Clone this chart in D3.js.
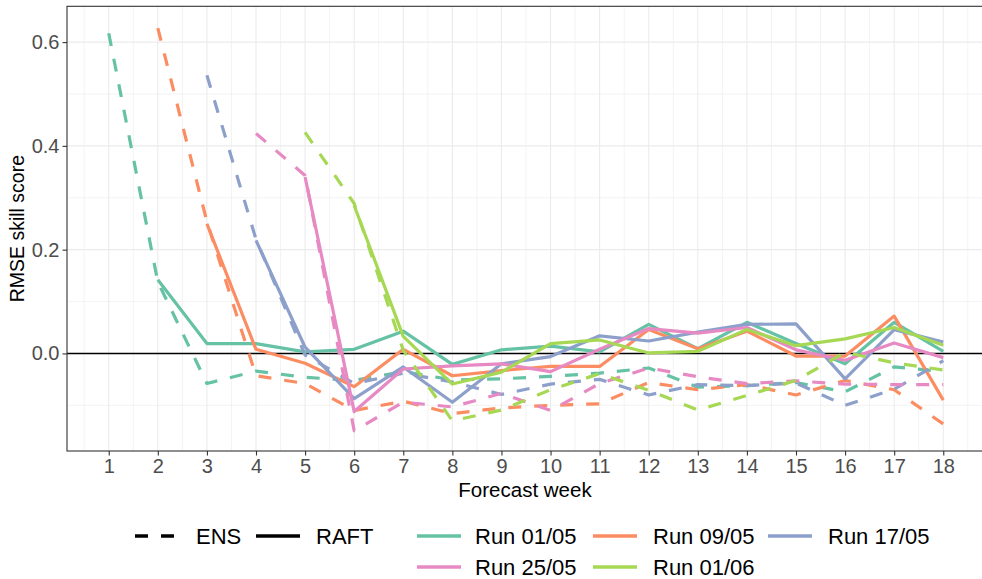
<!DOCTYPE html>
<html><head><meta charset="utf-8">
<script src="https://cdn.jsdelivr.net/npm/d3@7/dist/d3.min.js"></script>
<style>
body{margin:0;background:#fff;}
svg{display:block;font-family:"Liberation Sans",Arial,Helvetica,sans-serif;}
</style>
</head><body>
<svg id="chart" width="982" height="579"></svg>
<script>
// ---------------- data ----------------
const xTicks = d3.range(1, 19);
const yTicks = [0.0, 0.2, 0.4, 0.6];
const runNames = ["Run 01/05", "Run 09/05", "Run 17/05", "Run 25/05", "Run 01/06"];
const runColors = ["#66C2A5", "#FC8D62", "#8DA0CB", "#E78AC3", "#A6D854"];
const typeNames = ["ENS", "RAFT"];
const ensStartWeek = [1, 2, 3, 4, 5];
const raftStartWeek = [2, 3, 4, 5, 6];

const ens0105  = [0.617, 0.138, -0.058, -0.034, -0.046, -0.052, -0.035, -0.051, -0.049, -0.044, -0.038, -0.028, -0.065, -0.062, -0.056, -0.074, -0.026, -0.035];
const raft0105 = [0.142, 0.019, 0.019, 0.003, 0.008, 0.043, -0.021, 0.007, 0.014, 0.003, 0.056, 0.009, 0.060, 0.019, -0.020, 0.060, 0.004];
const ens0905  = [0.627, 0.254, -0.043, -0.058, -0.110, -0.092, -0.116, -0.105, -0.100, -0.097, -0.056, -0.070, -0.060, -0.080, -0.052, -0.070, -0.136];
const raft0905 = [0.250, 0.008, -0.019, -0.064, 0.008, -0.043, -0.033, -0.025, -0.025, 0.046, 0.009, 0.043, -0.005, -0.005, 0.072, -0.090];
const ens1705  = [0.536, 0.220, -0.003, -0.058, -0.038, -0.055, -0.079, -0.059, -0.050, -0.080, -0.060, -0.062, -0.057, -0.100, -0.069, -0.014];
const raft1705 = [0.218, 0.012, -0.087, -0.026, -0.094, -0.020, -0.006, 0.034, 0.024, 0.041, 0.056, 0.057, -0.049, 0.046, 0.022];
const ens2505  = [0.424, 0.343, -0.149, -0.094, -0.103, -0.077, -0.110, -0.058, -0.028, -0.045, -0.058, -0.053, -0.059, -0.060, -0.060];
const raft2505 = [0.340, -0.112, -0.030, -0.024, -0.020, -0.035, 0.008, 0.048, 0.039, 0.050, 0.007, -0.013, 0.020, -0.008];
const ens0106  = [0.426, 0.289, 0.006, -0.130, -0.109, -0.070, -0.039, -0.071, -0.109, -0.081, -0.052, 0.002, -0.018, -0.032];
const raft0106 = [0.285, 0.033, -0.059, -0.036, 0.019, 0.026, 0.001, 0.004, 0.046, 0.015, 0.028, 0.050, 0.016];

const ensValues = [ens0105, ens0905, ens1705, ens2505, ens0106];
const raftValues = [raft0105, raft0905, raft1705, raft2505, raft0106];

// ---------------- layout ----------------
const W = 982, H = 579;
const panel = {left: 67, top: 6.3, right: 985, bottom: 451};
const svg = d3.select("#chart");

const x = d3.scaleLinear().domain([0.15, 18.85]).range([panel.left, panel.right]);
const y = d3.scaleLinear().domain([-0.188, 0.669]).range([panel.bottom, panel.top]);

const gridColor = "#EBEBEB";
const tickColor = "#4D4D4D";

// clip path for panel
svg.append("defs").append("clipPath").attr("id", "clip")
  .append("rect").attr("x", panel.left).attr("y", panel.top)
  .attr("width", panel.right - panel.left).attr("height", panel.bottom - panel.top);

const g = svg.append("g").attr("clip-path", "url(#clip)");

// minor grid
const xMinor = d3.range(0.5, 19.0, 1);
const yMinor = [-0.1, 0.1, 0.3, 0.5];
g.selectAll(".xminor").data(xMinor).enter().append("line")
  .attr("x1", d => x(d)).attr("x2", d => x(d)).attr("y1", panel.top).attr("y2", panel.bottom)
  .attr("stroke", gridColor).attr("stroke-width", 0.6);
g.selectAll(".yminor").data(yMinor).enter().append("line")
  .attr("y1", d => y(d)).attr("y2", d => y(d)).attr("x1", panel.left).attr("x2", panel.right)
  .attr("stroke", gridColor).attr("stroke-width", 0.6);
// major grid
g.selectAll(".xmajor").data(xTicks).enter().append("line")
  .attr("x1", d => x(d)).attr("x2", d => x(d)).attr("y1", panel.top).attr("y2", panel.bottom)
  .attr("stroke", gridColor).attr("stroke-width", 1.1);
g.selectAll(".ymajor").data(yTicks).enter().append("line")
  .attr("y1", d => y(d)).attr("y2", d => y(d)).attr("x1", panel.left).attr("x2", panel.right)
  .attr("stroke", gridColor).attr("stroke-width", 1.1);

// zero line
g.append("line").attr("x1", panel.left).attr("x2", panel.right)
  .attr("y1", y(0)).attr("y2", y(0)).attr("stroke", "#000").attr("stroke-width", 1.6);

// series
const line = d3.line().x(d => x(d.w)).y(d => y(d.v)).curve(d3.curveLinear);
const series = [];
runNames.forEach((name, i) => {
  series.push({run: i, type: "ENS", pts: ensValues[i].map((v, k) => ({w: ensStartWeek[i] + k, v}))});
  series.push({run: i, type: "RAFT", pts: raftValues[i].map((v, k) => ({w: raftStartWeek[i] + k, v}))});
});
const dash = "13,13";
g.selectAll(".series").data(series).enter().append("path")
  .attr("d", d => line(d.pts))
  .attr("fill", "none")
  .attr("stroke", d => runColors[d.run])
  .attr("stroke-width", 3.2)
  .attr("stroke-linejoin", "round")
  .attr("stroke-dasharray", d => d.type === "ENS" ? dash : null);

// panel border
svg.append("rect").attr("x", panel.left).attr("y", panel.top)
  .attr("width", panel.right - panel.left).attr("height", panel.bottom - panel.top)
  .attr("fill", "none").attr("stroke", "#333333").attr("stroke-width", 1.1);

// axes
const xAxis = d3.axisBottom(x).tickValues(xTicks).tickFormat(d3.format("d")).tickSize(4.5).tickPadding(3);
const xg = svg.append("g").attr("transform", `translate(0,${panel.bottom})`).call(xAxis);
xg.select(".domain").remove();
xg.selectAll(".tick line").attr("stroke", "#333333").attr("stroke-width", 1.1);
xg.selectAll(".tick text").attr("fill", tickColor).attr("font-size", 20)
  .attr("font-family", "Liberation Sans, Arial, sans-serif").attr("dy", "0.71em");

const yAxis = d3.axisLeft(y).tickValues(yTicks).tickFormat(d3.format(".1f")).tickSize(4.5).tickPadding(3);
const yg = svg.append("g").attr("transform", `translate(${panel.left},0)`).call(yAxis);
yg.select(".domain").remove();
yg.selectAll(".tick line").attr("stroke", "#333333").attr("stroke-width", 1.1);
yg.selectAll(".tick text").attr("fill", tickColor).attr("font-size", 20)
  .attr("font-family", "Liberation Sans, Arial, sans-serif");

// axis titles
svg.append("text").attr("x", (panel.left + panel.right) / 2 - 1).attr("y", 497)
  .attr("text-anchor", "middle").attr("font-size", 20.5).attr("fill", "#000")
  .text("Forecast week");
svg.append("text").attr("transform", `translate(24,${(panel.top + panel.bottom) / 2}) rotate(-90)`)
  .attr("text-anchor", "middle").attr("font-size", 19.5).attr("fill", "#000")
  .text("RMSE skill score");

// ---------------- legend ----------------
const legendFont = 22;
const row1 = 536, row2 = 567;
const keyW = 44;
// linetype legend
const ltPos = [{k: 135, t: 196}, {k: 256, t: 316}];
typeNames.forEach((t, i) => {
  const p = ltPos[i];
  svg.append("line").attr("x1", p.k).attr("x2", p.k + keyW).attr("y1", row1).attr("y2", row1)
    .attr("stroke", "#000").attr("stroke-width", 3.4)
    .attr("stroke-dasharray", t === "ENS" ? dash : null);
  svg.append("text").attr("x", p.t).attr("y", row1).attr("dy", "0.36em")
    .attr("font-size", legendFont).attr("fill", "#000").text(t);
});
// colour legend (3 columns, 2 rows)
const colKey = [417, 593, 768];
const colText = [475, 653, 828];
runNames.forEach((name, i) => {
  const c = i % 3, r = Math.floor(i / 3);
  const yy = r === 0 ? row1 : row2;
  svg.append("line").attr("x1", colKey[c]).attr("x2", colKey[c] + keyW).attr("y1", yy).attr("y2", yy)
    .attr("stroke", runColors[i]).attr("stroke-width", 3.6);
  svg.append("text").attr("x", colText[c]).attr("y", yy).attr("dy", "0.36em")
    .attr("font-size", legendFont).attr("fill", "#000").text(name);
});
</script>
</body></html>
